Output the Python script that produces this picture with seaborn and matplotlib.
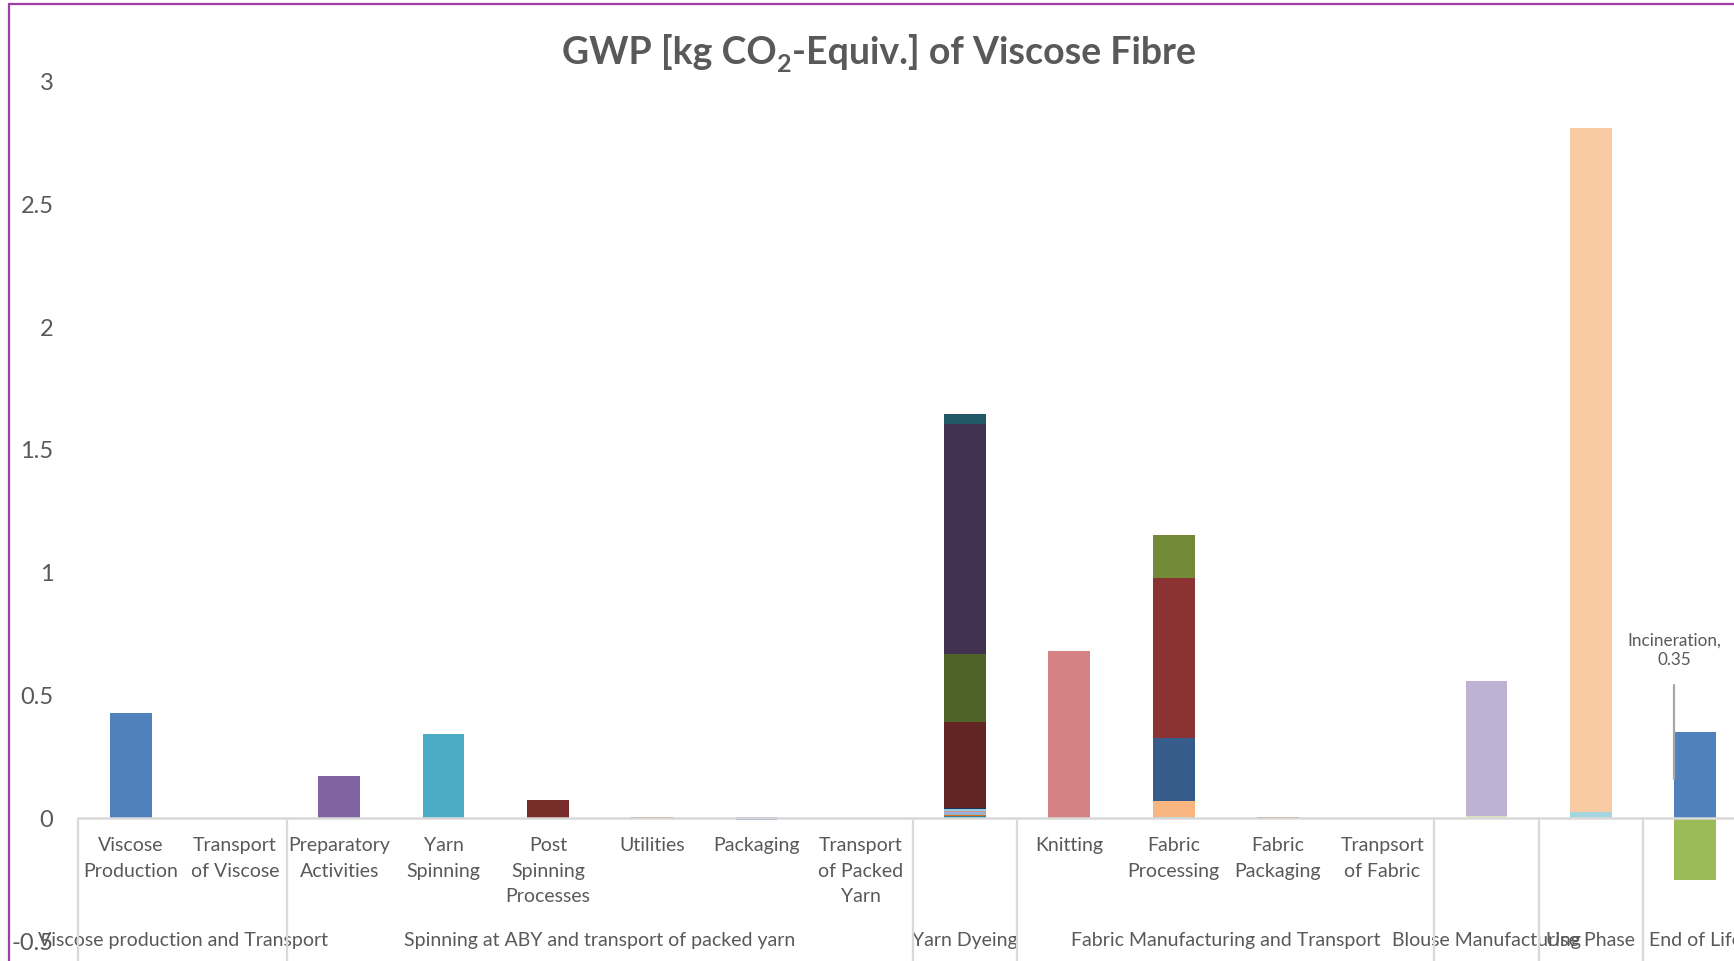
import matplotlib
matplotlib.use("Agg")
import matplotlib.pyplot as plt
from matplotlib.lines import Line2D
import seaborn as sns

# ---- data -------------------------------------------------------------
stages = [
    "Viscose Production", "Transport of Viscose", "Preparatory Activities",
    "Yarn Spinning", "Post Spinning Processes", "Utilities", "Packaging",
    "Transport of Packed Yarn", "Yarn Dyeing", "Knitting", "Fabric Processing",
    "Fabric Packaging", "Tranpsort of Fabric", "Blouse Manufacturing",
    "Use Phase", "End of Life",
]
stage_labels = [
    "Viscose\nProduction", "Transport\nof Viscose", "Preparatory\nActivities",
    "Yarn\nSpinning", "Post\nSpinning\nProcesses", "Utilities", "Packaging",
    "Transport\nof Packed\nYarn", "", "Knitting", "Fabric\nProcessing",
    "Fabric\nPackaging", "Tranpsort\nof Fabric", "", "", "",
]

group_names = [
    "Viscose production and Transport",
    "Spinning at ABY and transport of packed yarn",
    "Yarn Dyeing",
    "Fabric Manufacturing and Transport",
    "Blouse Manufacturing",
    "Use Phase",
    "End of Life",
]
group_first = [0, 2, 8, 9, 13, 14, 15]
group_last = [1, 7, 8, 12, 13, 14, 15]

# contributions per stage, listed from the bottom of the stack upwards
viscose_production = [0.43]
transport_viscose = []
preparatory = [0.174]
yarn_spinning = [0.343]
post_spinning = [0.075]
utilities = [0.005]
packaging = [0.004, -0.005]
transport_packed_yarn = []
yarn_dyeing = [0.008, 0.004, 0.012, 0.004, 0.008, 0.004, 0.351, 0.277, 0.939, 0.041]
knitting = [0.682]
fabric_processing = [0.005, 0.065, 0.2565, 0.650, 0.175]
fabric_packaging = [0.005]
transport_fabric = []
blouse = [0.011, 0.547]
use_phase = [0.027, 2.783]
end_of_life = [0.35, 0.003, -0.252]

incineration_value = 0.35

y_ticks = [-0.5, 0, 0.5, 1, 1.5, 2, 2.5, 3]
y_tick_labels = ["-0.5", "0", "0.5", "1", "1.5", "2", "2.5", "3"]

title_parts = ["GWP [kg CO", "2", "-Equiv.] of Viscose Fibre"]

# ---- colours of the stacked segments --------------------------------------
stack_colors = [
    ["#4F81BD"],
    [],
    ["#8064A2"],
    ["#4BACC6"],
    ["#772C2A"],
    ["#C0733F"],
    ["#A99BC4", "#3F6FAE"],
    [],
    ["#31859C", "#E46C0A", "#95B3D7", "#D99694", "#93CDDD", "#17375E",
     "#632523", "#4F6228", "#403151", "#215967"],
    ["#D48284"],
    ["#93CDDD", "#F8B57F", "#355C8B", "#8B3333", "#738B38"],
    ["#C0733F"],
    [],
    ["#D7E4BD", "#BFB1D1"],
    ["#A5D5E1", "#F9CBA4"],
    ["#4F81BD", "#C0504D", "#9BBB59"],
]

stacks = [
    viscose_production, transport_viscose, preparatory, yarn_spinning,
    post_spinning, utilities, packaging, transport_packed_yarn, yarn_dyeing,
    knitting, fabric_processing, fabric_packaging, transport_fabric, blouse,
    use_phase, end_of_life,
]

# ---- style -------------------------------------------------------------------
sns.set_style("white")
plt.rcParams["font.family"] = ["Lato", "DejaVu Sans"]
text_color = "#595959"
axis_color = "#D9D9D9"
font_size = 14

W, H = 1734, 961
fig = plt.figure(figsize=(W / 100, H / 100), dpi=100)
ax = fig.add_axes([0.04527, 0.02071, 0.9624, 0.8945])

# ---- stacked bars ------------------------------------------------------------
for stage, values, colors in zip(stages, stacks, stack_colors):
    pos_base, neg_base = 0.0, 0.0
    for value, color in zip(values, colors):
        base = pos_base if value >= 0 else neg_base
        sns.barplot(x=[stage], y=[value], order=stages, bottom=base,
                    color=color, saturation=1, width=0.4, errorbar=None,
                    linewidth=0, ax=ax)
        if value >= 0:
            pos_base += value
        else:
            neg_base += value

ax.set_xlim(-0.5, len(stages) - 0.5)
ax.set_ylim(-0.5, 3)
ax.set_xlabel("")
ax.set_ylabel("")
ax.set_xticks([])
ax.set_yticks(y_ticks)
ax.set_yticklabels(y_tick_labels)
ax.tick_params(axis="y", length=0, pad=18, labelsize=17, labelcolor=text_color)
for side in ax.spines.values():
    side.set_visible(False)

# horizontal category axis at zero
ax.axhline(0, color=axis_color, lw=1.8, zorder=5)

# dividers between stage groups
dividers = [group_first[0] - 0.5] + [g + 0.5 for g in group_last]
ax.vlines(dividers, -0.6, 0, colors=axis_color, lw=1.6, clip_on=False, zorder=5)

# stage labels (first level) and group labels (second level)
line_y0 = -0.1128
line_step = 0.1034
for i, label in enumerate(stage_labels):
    for k, line in enumerate(label.split("\n") if label else []):
        ax.text(i, line_y0 - k * line_step, line, ha="center", va="center",
                fontsize=font_size, color=text_color, clip_on=False)

for name, first, last in zip(group_names, group_first, group_last):
    ax.text((first + last) / 2, -0.497, name, ha="center", va="center",
            fontsize=font_size, color=text_color, clip_on=False)

# data label for incineration with its leader line
eol = stages.index("End of Life")
ax.plot([eol - 0.2, eol - 0.2], [0.543, 0.16], color="#A6A6A6", lw=1.6, zorder=6)
ax.text(eol - 0.2, 0.683, f"Incineration,\n{incineration_value:.2f}",
        ha="center", va="center", fontsize=12.3, color="#595959",
        linespacing=1.3)

# title, assembled piecewise so the "2" sits as a real subscript
renderer = fig.canvas.get_renderer()
sizes = [27, 18, 27]
drops = [0, 8, 0]
pieces = []
for part, size in zip(title_parts, sizes):
    t = fig.text(0, 0, part, fontsize=size, fontweight="bold",
                 color=text_color, ha="left", va="baseline")
    pieces.append(t)
widths = [t.get_window_extent(renderer).width for t in pieces]
x_px = 879 - sum(widths) / 2
baseline_px = H - 64
for t, w, d in zip(pieces, widths, drops):
    t.set_position((x_px / W, (baseline_px - d) / H))
    x_px += w

# chart frame
frame_color = "#9E3FA6"
fx = 8.5 / W
fy = 1 - 4 / H
fig.add_artist(Line2D([fx, fx], [0, fy], transform=fig.transFigure,
                      color=frame_color, lw=1.6))
fig.add_artist(Line2D([fx, 1], [fy, fy], transform=fig.transFigure,
                      color=frame_color, lw=1.6))

fig.savefig("out.png", dpi=100)
